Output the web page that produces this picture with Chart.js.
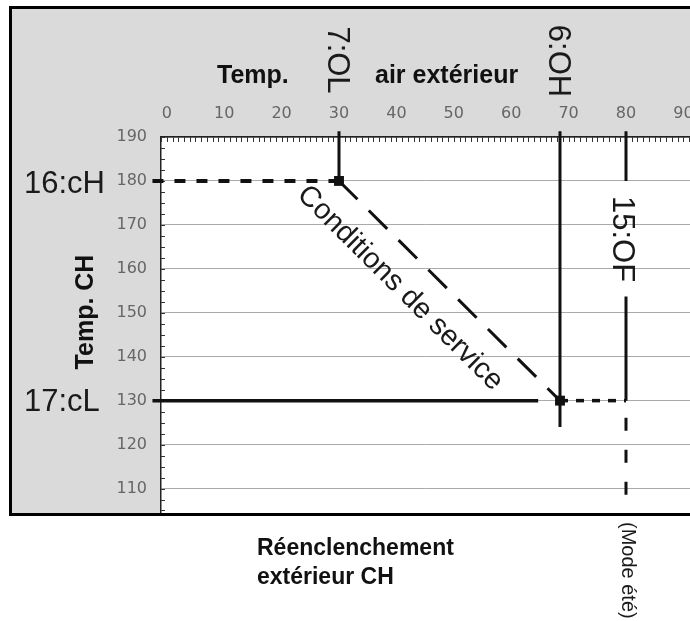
<!DOCTYPE html>
<html lang="fr">
<head>
<meta charset="utf-8">
<title>Réenclenchement extérieur CH</title>
<script src="https://cdn.jsdelivr.net/npm/chart.js@4.4.1/dist/chart.umd.min.js"></script>
<style>
  html, body { margin: 0; padding: 0; background: #fff; }
  canvas { display: block; }
</style>
</head>
<body>
<canvas id="heatChart" width="690" height="621"></canvas>
<script>
// axis ticks
const outdoorTicks = [0, 10, 20, 30, 40, 50, 60, 70, 80, 90];
const flowTicks = [110, 120, 130, 140, 150, 160, 170, 180, 190];

// parameter values: 7:OL, 6:OH, 15:OF on the outdoor axis, 16:cH, 17:cL on the CH axis
const codeX = [30, 68.5, 80];
const codeY = [180, 130];

// where the guide lines start / stop
const lineStartX = -2.5;
const cLSolidEndX = 64.7;
const lineTopY = 191.3;
const ohLineEndY = 124;
const ofBreakY = [180, 153.7];
const ofLineEndY = 107.4;

const sansFont = '"Liberation Sans", Arial, sans-serif';

function segment(xs, ys, width, dash, extra) {
  return Object.assign({
    data: xs.map((x, i) => ({ x: x, y: ys[i] })),
    showLine: true,
    borderColor: '#111',
    backgroundColor: '#111',
    borderWidth: width,
    borderDash: dash || [],
    borderCapStyle: 'butt',
    pointRadius: 0,
    pointHoverRadius: 0,
    clip: false
  }, extra || {});
}

const datasets = [
  // 16:cH level, dashed up to 7:OL
  segment([lineStartX, codeX[0]], [codeY[0], codeY[0]], 4, [11, 11]),
  // 17:cL level, solid
  segment([lineStartX, cLSolidEndX], [codeY[1], codeY[1]], 3.5),
  // 7:OL and 6:OH verticals
  segment([codeX[0], codeX[0]], [lineTopY, codeY[0]], 3),
  segment([codeX[1], codeX[1]], [lineTopY, ohLineEndY], 3),
  // 15:OF vertical, broken around its label
  segment([codeX[2], codeX[2]], [lineTopY, ofBreakY[0]], 3),
  segment([codeX[2], codeX[2]], [ofBreakY[1], codeY[1]], 3),
  segment([codeX[2], codeX[2]], [codeY[1], ofLineEndY], 3, [13, 19], { borderDashOffset: 15 }),
  // link from 6:OH to 15:OF at 17:cL
  segment([codeX[1], codeX[2]], [codeY[1], codeY[1]], 3.5, [8, 8]),
  // operating line between the two set points
  segment([codeX[0], codeX[1]], [codeY[0], codeY[1]], 3, [26, 16], {
    pointStyle: 'rect',
    pointRadius: 7,
    pointBackgroundColor: '#111',
    pointBorderWidth: 0
  })
];

function drawText(ctx, str, x, y, font, align, baseline, angle) {
  ctx.save();
  ctx.translate(x, y);
  if (angle) ctx.rotate(angle);
  ctx.font = font;
  ctx.textAlign = align;
  ctx.textBaseline = baseline;
  ctx.fillText(str, 0, 0);
  ctx.restore();
}

const panel = {
  id: 'panel',
  beforeDraw(chart) {
    const { ctx, chartArea: a } = chart;
    ctx.save();
    ctx.fillStyle = '#ffffff';
    ctx.fillRect(0, 0, chart.width, chart.height);
    ctx.fillStyle = '#dadada';
    ctx.fillRect(10, 7, chart.width - 10, a.bottom - 7);
    ctx.fillStyle = '#ffffff';
    ctx.fillRect(a.left, a.top, a.right - a.left, a.bottom - a.top);
    ctx.restore();
  },
  beforeDatasetsDraw(chart) {
    const { ctx, chartArea: a, scales: { x, y } } = chart;
    ctx.save();
    ctx.strokeStyle = '#333';
    ctx.lineWidth = 1;
    ctx.beginPath();
    // ruler ticks along the top edge, one per degree
    for (let v = Math.ceil(x.min); v <= x.max; v++) {
      const px = Math.round(x.getPixelForValue(v)) + 0.5;
      ctx.moveTo(px, a.top);
      ctx.lineTo(px, a.top + 5);
    }
    // minor ticks along the left edge
    for (let v = Math.ceil(y.min / 2.5) * 2.5; v <= y.max; v += 2.5) {
      const py = Math.round(y.getPixelForValue(v)) + 0.5;
      ctx.moveTo(a.left, py);
      ctx.lineTo(a.left + 4, py);
    }
    ctx.stroke();
    ctx.restore();
  },
  afterDraw(chart) {
    const { ctx, chartArea: a, scales: { x, y } } = chart;
    const bold = s => 'bold ' + s + 'px ' + sansFont;
    const plain = s => s + 'px ' + sansFont;
    ctx.save();
    ctx.fillStyle = '#111';

    // axis titles
    drawText(ctx, 'Temp.', 217, 83, bold(25), 'left', 'alphabetic');
    drawText(ctx, 'air extérieur', 375, 83, bold(25), 'left', 'alphabetic');
    drawText(ctx, 'Temp. CH', 86, 312, bold(25), 'center', 'middle', -Math.PI / 2);
    drawText(ctx, 'Réenclenchement', 257, 555, bold(23), 'left', 'alphabetic');
    drawText(ctx, 'extérieur CH', 257, 584, bold(23), 'left', 'alphabetic');

    // parameter codes
    ctx.fillStyle = '#1a1a1a';
    drawText(ctx, '16:cH', 24, y.getPixelForValue(codeY[0]) + 12, plain(31), 'left', 'alphabetic');
    drawText(ctx, '17:cL', 24, y.getPixelForValue(codeY[1]) + 10, plain(31), 'left', 'alphabetic');
    drawText(ctx, '7:OL', x.getPixelForValue(codeX[0]) - 11, 60, plain(31), 'center', 'alphabetic', Math.PI / 2);
    drawText(ctx, '6:OH', x.getPixelForValue(codeX[1]) - 11, 61, plain(31), 'center', 'alphabetic', Math.PI / 2);
    drawText(ctx, '15:OF', x.getPixelForValue(codeX[2]) - 13, 239, plain(31), 'center', 'alphabetic', Math.PI / 2);
    drawText(ctx, '(Mode été)', x.getPixelForValue(codeX[2]) - 4, 522, plain(20), 'left', 'alphabetic', Math.PI / 2);

    // label along the operating line
    const x1 = x.getPixelForValue(codeX[0]), y1 = y.getPixelForValue(codeY[0]);
    const x2 = x.getPixelForValue(codeX[1]), y2 = y.getPixelForValue(codeY[1]);
    const len = Math.hypot(x2 - x1, y2 - y1);
    const ux = (x2 - x1) / len, uy = (y2 - y1) / len;
    const cx = (x1 + x2) / 2 - 37 * ux - 33 * uy;
    const cy = (y1 + y2) / 2 - 37 * uy + 33 * ux;
    drawText(ctx, 'Conditions de service', cx, cy, plain(29), 'center', 'middle', Math.atan2(uy, ux));

    // outer frame
    ctx.strokeStyle = '#000';
    ctx.lineWidth = 3;
    ctx.strokeRect(10.5, 7.5, chart.width + 10, a.bottom - 7);
    ctx.restore();
  }
};

new Chart(document.getElementById('heatChart').getContext('2d'), {
  type: 'scatter',
  data: { datasets: datasets },
  plugins: [panel],
  options: {
    responsive: false,
    devicePixelRatio: 1,
    animation: false,
    layout: { autoPadding: false, padding: { top: 0, left: 0, right: 0, bottom: 107 } },
    plugins: {
      legend: { display: false },
      tooltip: { enabled: false }
    },
    scales: {
      x: {
        type: 'linear',
        position: 'top',
        min: -1.01,
        max: 91.15,
        afterBuildTicks: s => { s.ticks = outdoorTicks.map(v => ({ value: v })); },
        afterFit: s => { s.height = 137; s.paddingLeft = 0; s.paddingRight = 0; },
        grid: { display: false },
        border: { display: true, color: '#222', width: 1.5 },
        ticks: {
          autoSkip: false,
          maxRotation: 0,
          padding: 6,
          color: '#666',
          font: { family: '"DejaVu Sans"', size: 16 }
        }
      },
      y: {
        type: 'linear',
        min: 104.2,
        max: 190,
        afterBuildTicks: s => { s.ticks = flowTicks.map(v => ({ value: v })); },
        afterFit: s => { s.width = 161; s.paddingTop = 0; s.paddingBottom = 0; },
        grid: { color: '#aaa', lineWidth: 1, drawTicks: false },
        border: { display: true, color: '#222', width: 1.5 },
        ticks: {
          autoSkip: false,
          padding: 14,
          color: '#666',
          font: { family: '"DejaVu Sans"', size: 16 }
        }
      }
    }
  }
});
</script>
</body>
</html>
